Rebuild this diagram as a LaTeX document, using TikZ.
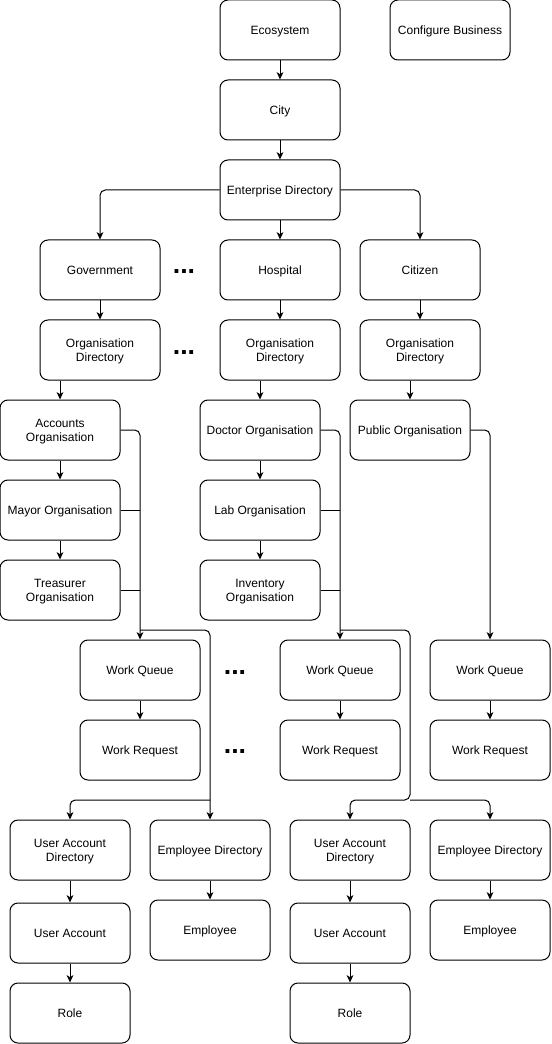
\documentclass[tikz,border=0pt]{standalone}
\usepackage{fontspec}
\setmainfont{Liberation Sans}
\usetikzlibrary{arrows.meta}
\begin{document}
\begin{tikzpicture}[x=0.75pt,y=-0.75pt,
  box/.style={draw,rounded corners=6pt,minimum width=90pt,minimum height=45pt,align=center,
    font=\fontsize{9}{10.5}\selectfont,inner sep=2pt,text depth=0pt,line width=0.75pt},
  conn/.style={-{Stealth[length=5.5pt,width=5pt,inset=1.5pt]},line width=0.75pt,rounded corners=4pt},
  link/.style={line width=0.75pt},
  dots/.style={font=\fontsize{20}{20}\selectfont\bfseries,anchor=base,inner sep=0pt}]
\useasboundingbox (0,0) rectangle (551,1044);
\node[box] (eco) at (280,30) {Ecosystem};
\node[box] (conf) at (450,30) {Configure Business};
\node[box] (city) at (280,110) {City};
\node[box] (ent) at (280,190) {Enterprise Directory};
\node[box] (gov) at (100,270) {Government};
\node[box] (hosp) at (280,270) {Hospital};
\node[box] (cit) at (420,270) {Citizen};
\node[box] (odg) at (100,350) {Organisation\\Directory};
\node[box] (odh) at (280,350) {Organisation\\Directory};
\node[box] (odc) at (420,350) {Organisation\\Directory};
\node[box] (acc) at (60,430) {Accounts\\Organisation};
\node[box] (doc) at (260,430) {Doctor Organisation};
\node[box] (pub) at (410,430) {Public Organisation};
\node[box] (mayor) at (60,510) {Mayor Organisation};
\node[box] (lab) at (260,510) {Lab Organisation};
\node[box] (treas) at (60,590) {Treasurer\\Organisation};
\node[box] (inv) at (260,590) {Inventory\\Organisation};
\node[box] (wq1) at (140,670) {Work Queue};
\node[box] (wq2) at (340,670) {Work Queue};
\node[box] (wq3) at (490,670) {Work Queue};
\node[box] (wr1) at (140,750) {Work Request};
\node[box] (wr2) at (340,750) {Work Request};
\node[box] (wr3) at (490,750) {Work Request};
\node[box] (uad1) at (70,850) {User Account\\Directory};
\node[box] (ed1) at (210,850) {Employee Directory};
\node[box] (uad2) at (350,850) {User Account\\Directory};
\node[box] (ed2) at (490,850) {Employee Directory};
\node[box] (ua1) at (70,933) {User Account};
\node[box] (emp1) at (210,930) {Employee};
\node[box] (ua2) at (350,933) {User Account};
\node[box] (emp2) at (490,930) {Employee};
\node[box] (role1) at (70,1013) {Role};
\node[box] (role2) at (350,1013) {Role};
\node[dots] (dg) at (184,274) {...};
\node[dots] (dd) at (184,354) {...};
\node[dots] (dq) at (235,674) {...};
\node[dots] (dr) at (235,753) {...};
\coordinate (j1) at (140,630);
\coordinate (s1) at (210,800);
\coordinate (j2) at (340,630);
\coordinate (s2) at (410,800);
\draw[conn] (eco) -- (city);
\draw[conn] (city) -- (ent);
\draw[conn] (ent) -- (hosp);
\draw[conn] (ent.west) -| (gov.north);
\draw[conn] (ent.east) -| (cit.north);
\draw[conn] (gov) -- (odg);
\draw[conn] (hosp) -- (odh);
\draw[conn] (cit) -- (odc);
\draw[conn] (odg.south -| acc.north) -- (acc.north);
\draw[conn] (odh.south -| doc.north) -- (doc.north);
\draw[conn] (odc.south -| pub.north) -- (pub.north);
\draw[conn] (acc) -- (mayor);
\draw[conn] (mayor) -- (treas);
\draw[conn] (doc) -- (lab);
\draw[conn] (lab) -- (inv);
\draw[conn] (acc.east) -| (wq1.north);
\draw[link] (mayor.east) -- (mayor.east -| wq1.north);
\draw[link] (treas.east) -- (treas.east -| wq1.north);
\draw[conn] (j1) -| (ed1.north);
\draw[conn] (s1) -| (uad1.north);
\draw[conn] (doc.east) -| (wq2.north);
\draw[link] (lab.east) -- (lab.east -| wq2.north);
\draw[link] (inv.east) -- (inv.east -| wq2.north);
\draw[conn] (j2) -| (s2) -| (uad2.north);
\draw[conn] (s2) -| (ed2.north);
\draw[conn] (pub.east) -| (wq3.north);
\draw[conn] (wq1) -- (wr1);
\draw[conn] (wq2) -- (wr2);
\draw[conn] (wq3) -- (wr3);
\draw[conn] (uad1) -- (ua1);
\draw[conn] (ua1) -- (role1);
\draw[conn] (uad2) -- (ua2);
\draw[conn] (ua2) -- (role2);
\draw[conn] (ed1) -- (emp1);
\draw[conn] (ed2) -- (emp2);
\end{tikzpicture}
\end{document}
